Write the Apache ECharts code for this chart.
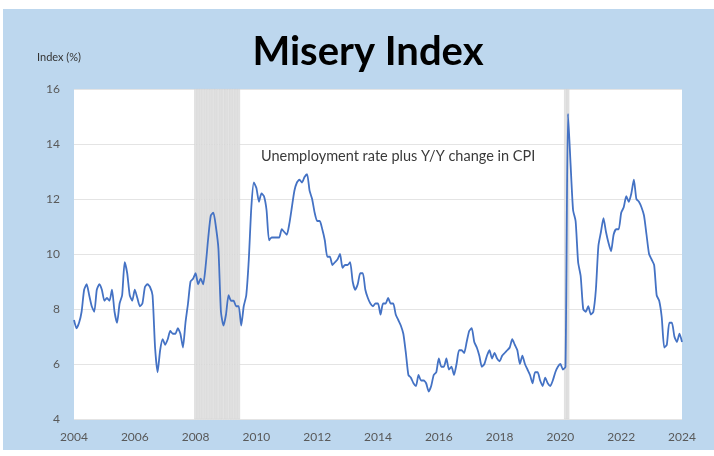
<!DOCTYPE html>
<html>
<head>
<meta charset="utf-8">
<script src="https://cdn.jsdelivr.net/npm/echarts@6/dist/echarts.min.js"></script>
<style>
  html, body { margin: 0; padding: 0; background: #fff; }
  #chart { width: 714px; height: 456px; }
</style>
</head>
<body>
<div id="chart"></div>
<script>
// Misery index = unemployment rate + Y/Y CPI change, monthly, Jan 2004 .. Jan 2024
const startYear = 2004;
const y2004 = [7.6, 7.3, 7.5, 7.9, 8.7, 8.9, 8.5, 8.1, 7.9, 8.7, 8.9, 8.7];
const y2005 = [8.3, 8.4, 8.3, 8.7, 7.9, 7.5, 8.2, 8.5, 9.7, 9.3, 8.5, 8.3];
const y2006 = [8.7, 8.4, 8.1, 8.2, 8.8, 8.9, 8.8, 8.5, 6.6, 5.7, 6.5, 6.9];
const y2007 = [6.7, 6.9, 7.2, 7.1, 7.1, 7.3, 7.1, 6.6, 7.5, 8.2, 9.0, 9.1];
const y2008 = [9.3, 8.9, 9.1, 8.9, 9.6, 10.6, 11.4, 11.5, 11.0, 10.2, 7.9, 7.4];
const y2009 = [7.8, 8.5, 8.3, 8.3, 8.1, 8.1, 7.4, 8.1, 8.5, 9.8, 11.7, 12.6];
const y2010 = [12.4, 11.9, 12.2, 12.1, 11.6, 10.5, 10.6, 10.6, 10.6, 10.6, 10.9, 10.8];
const y2011 = [10.7, 11.1, 11.7, 12.3, 12.6, 12.7, 12.6, 12.8, 12.9, 12.3, 12.0, 11.5];
const y2012 = [11.2, 11.2, 10.9, 10.5, 9.9, 9.9, 9.6, 9.7, 9.8, 10.0, 9.5, 9.6];
const y2013 = [9.6, 9.7, 9.0, 8.7, 8.9, 9.3, 9.3, 8.7, 8.4, 8.2, 8.1, 8.2];
const y2014 = [8.2, 7.8, 8.2, 8.2, 8.4, 8.2, 8.2, 7.8, 7.6, 7.4, 7.1, 6.4];
const y2015 = [5.6, 5.5, 5.3, 5.2, 5.6, 5.4, 5.4, 5.3, 5.0, 5.2, 5.6, 5.7];
const y2016 = [6.2, 5.9, 5.9, 6.2, 5.8, 5.9, 5.6, 6.0, 6.5, 6.5, 6.4, 6.8];
const y2017 = [7.2, 7.3, 6.8, 6.6, 6.3, 5.9, 6.0, 6.3, 6.5, 6.2, 6.4, 6.2];
const y2018 = [6.1, 6.3, 6.4, 6.5, 6.6, 6.9, 6.7, 6.5, 6.0, 6.3, 6.0, 5.8];
const y2019 = [5.6, 5.3, 5.7, 5.7, 5.4, 5.2, 5.5, 5.3, 5.2, 5.4, 5.7, 5.9];
const y2020 = [6.0, 5.8, 5.9, 15.1, 13.3, 11.6, 11.2, 9.7, 9.2, 8.0, 7.9, 8.1];
const y2021 = [7.8, 7.9, 8.7, 10.3, 10.8, 11.3, 10.8, 10.4, 10.1, 10.7, 10.9, 10.9];
const y2022 = [11.5, 11.7, 12.1, 11.9, 12.2, 12.7, 12.0, 11.9, 11.7, 11.4, 10.7, 10.0];
const y2023 = [9.8, 9.6, 8.5, 8.3, 7.7, 6.6, 6.7, 7.5, 7.5, 7.0, 6.8, 7.1];
const y2024 = [6.8];

// recessions: [first year, first month, number of months]
const recessions = [[2008, 1, 18], [2020, 3, 2]];

const xTicks = [2004, 2006, 2008, 2010, 2012, 2014, 2016, 2018, 2020, 2022, 2024];
const yTicks = [4, 6, 8, 10, 12, 14, 16];

const years = [y2004, y2005, y2006, y2007, y2008, y2009, y2010, y2011, y2012, y2013,
  y2014, y2015, y2016, y2017, y2018, y2019, y2020, y2021, y2022, y2023, y2024];

const lineData = [];
years.forEach(function (arr, i) {
  arr.forEach(function (v, m) {
    lineData.push([startYear + i + m / 12, v]);
  });
});

const recessionData = [];
recessions.forEach(function (r) {
  for (let k = 0; k < r[2]; k++) {
    recessionData.push([r[0] + (r[1] - 1 + k) / 12, yTicks[yTicks.length - 1]]);
  }
});

const myChart = echarts.init(document.getElementById('chart'));

const option = {
  animation: false,
  backgroundColor: '#ffffff',
  textStyle: { fontFamily: 'Lato' },
  graphic: [
    {
      type: 'rect', z: -10, silent: true,
      shape: { x: 3, y: 9, width: 711, height: 441 },
      style: { fill: '#bdd7ee' }
    },
    {
      type: 'text', left: 37, top: 52,
      style: { text: 'Index (%)', fill: '#333', font: '11px Lato' }
    },
    {
      type: 'text', left: 261, top: 149,
      style: { text: 'Unemployment rate plus Y/Y change in CPI', fill: '#3a3a3a', font: '14.5px Lato' }
    }
  ],
  title: {
    text: 'Misery Index',
    left: 363,
    textAlign: 'center',
    top: 27,
    textStyle: { fontFamily: 'Lato', fontWeight: 'bold', fontSize: 40, color: '#000' }
  },
  grid: {
    left: 74, right: 32, top: 89, bottom: 37,
    show: true, backgroundColor: '#ffffff', borderWidth: 0
  },
  xAxis: {
    type: 'value',
    min: xTicks[0], max: xTicks[xTicks.length - 1], interval: 2,
    axisLine: { show: false },
    axisTick: { show: false },
    splitLine: { show: false },
    axisLabel: { color: '#595959', fontSize: 12, margin: 12, formatter: function (v) { return String(v); } }
  },
  yAxis: {
    type: 'value',
    min: yTicks[0], max: yTicks[yTicks.length - 1], interval: 2,
    axisLine: { show: false },
    axisTick: { show: false },
    splitLine: { lineStyle: { color: '#e4e4e4', width: 1 } },
    axisLabel: { color: '#595959', fontSize: 12, margin: 14 }
  },
  series: [
    {
      type: 'bar',
      data: recessionData,
      barWidth: 2.6,
      barGap: '-100%',
      itemStyle: { color: '#e3e3e3', borderColor: '#d0d0d0', borderWidth: 0.5 },
      silent: true,
      z: 1
    },
    {
      type: 'line',
      data: lineData,
      showSymbol: false,
      smooth: 0.2,
      lineStyle: { color: '#4472c4', width: 1.8 },
      z: 3
    }
  ]
};

myChart.setOption(option);
</script>
</body>
</html>
